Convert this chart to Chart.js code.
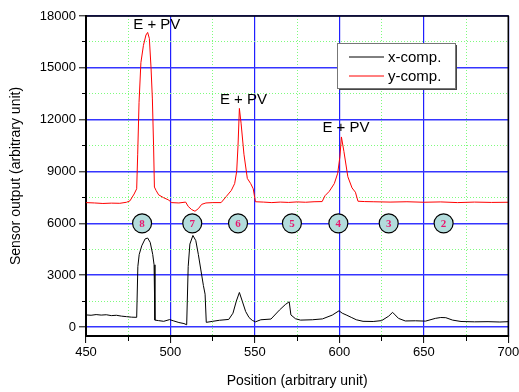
<!DOCTYPE html>
<html lang="en">
<head>
<meta charset="UTF-8">
<title>Sensor output</title>
<script src="https://cdn.jsdelivr.net/npm/chart.js@4.4.1/dist/chart.umd.min.js"></script>
<style>
  html, body { margin: 0; padding: 0; background: #fff; }
</style>
</head>
<body>
<canvas id="myChart" width="519" height="392"></canvas>

<script>
// x-comp. (black trace)
const xCompX = [450, 453, 456, 459, 462, 465, 468, 471, 474, 477, 480, 480.7, 481.5, 483, 485, 486.5, 488, 489.5, 490.3, 490.8,
  493, 496, 499.5, 502, 505, 508, 509.6, 510.5, 511.5, 513.3, 515, 516.5, 518, 519.5, 520.5, 521.2,
  525, 529, 534.5, 537, 539, 540.8, 542.5, 544.5, 546.5, 548.5, 550.3, 553.5, 559.5, 564.5, 568, 570.3, 571.3,
  574, 577, 584, 590, 595.8, 599.8, 601.7, 604, 607, 610, 614, 620, 625, 629.2, 631.5, 633, 635, 639,
  645, 651, 656.8, 660, 663, 667, 672, 680, 688, 695, 700]
const xCompY = [700, 680, 720, 690, 710, 660, 680, 630, 600, 570, 560, 3500, 4200, 4700, 5100, 5150, 4900, 4200, 3600, 400,
  370, 330, 430, 350, 260, 200, 130, 3500, 4800, 5300, 5000, 4200, 3300, 2400, 1900, 270,
  330, 390, 440, 800, 1500, 2000, 1500, 900, 550, 380, 300, 420, 460, 980, 1300, 1460, 700,
  480, 400, 420, 470, 690, 940, 800, 700, 560, 420, 330, 320, 370, 630, 850, 700, 500, 350,
  360, 340, 500, 550, 540, 400, 320, 300, 310, 290, 310]

// y-comp. (red trace)
const yCompX = [450, 455, 460, 465, 470, 474, 476, 478.5, 480, 480.6, 481.4, 482.5, 484, 485.5, 486.5, 487.5, 488.5, 489.3, 490, 490.5,
  491.5, 493, 496, 499, 500.5, 505, 509, 510.5, 512.5, 514.5, 516.5, 518.5, 521, 525, 530,
  533, 536, 538, 539.2, 540, 540.8, 541.8, 543.5, 545.5, 547.5, 549, 550.3, 555, 560, 565, 570, 575, 580, 585,
  589.8, 591.5, 594, 597, 599, 600.3, 601.2, 602.7, 605, 607.5, 609.5, 611,
  615, 620, 630, 640, 650, 660, 670, 680, 690, 700]
const yCompY = [7200, 7180, 7150, 7170, 7160, 7220, 7300, 7700, 8000, 10000, 13000, 15300, 16300, 16900, 17050, 16700, 15000, 13200, 10500, 8100,
  7900, 7650, 7480, 7350, 7200, 7180, 7230, 6980, 6800, 6700, 6850, 7100, 7180, 7200, 7200,
  7550, 7900, 8300, 9000, 10500, 12650, 11800, 10000, 8600, 8300, 8000, 7250, 7230, 7200, 7230, 7210, 7240, 7220, 7250,
  7260, 7600, 7850, 8300, 8900, 9850, 11000, 10150, 8700, 8050, 7800, 7280,
  7260, 7250, 7230, 7250, 7220, 7240, 7200, 7230, 7210, 7220]

// numbered position markers
const markerX = [483.2, 512.9, 540, 571.9, 599.4, 629.2, 661.7]
const markerY = [6000, 6000, 6000, 6000, 6000, 6000, 6000]
const markerLabels = ['8', '7', '6', '5', '4', '3', '2']

// peak annotations
const annotX = [491.9, 543.2, 603.9]
const annotY = [17500, 13150, 11500]
const annotText = ['E + PV', 'E + PV', 'E + PV']

// ticks
const xMajorTicks = [450, 500, 550, 600, 650, 700]
const xMinorTicks = [475, 525, 575, 625, 675]
const yMajorTicks = [0, 3000, 6000, 9000, 12000, 15000, 18000]
const yMinorTicks = [1500, 4500, 7500, 10500, 13500, 16500]

const seriesLabels = ['x-comp.', 'y-comp.']
const seriesColors = ['#000000', '#ff0000']

function toPoints(xs, ys) {
	return xs.map((v, i) => ({ x: v, y: ys[i] }))
}

const FONT = '"Liberation Sans", Arial, sans-serif'

const extras = {
	id: 'extras',
	afterDatasetsDraw(chart) {
		const { ctx, chartArea: a, scales: { x, y } } = chart
		ctx.save()

		// top and right frame
		ctx.strokeStyle = '#000'
		ctx.lineWidth = 1.5
		ctx.beginPath()
		ctx.moveTo(a.left, a.top)
		ctx.lineTo(a.right, a.top)
		ctx.lineTo(a.right, a.bottom)
		ctx.stroke()

		// numbers inside the markers
		const meta = chart.getDatasetMeta(2)
		ctx.font = 'bold 11px "Liberation Serif", serif'
		ctx.fillStyle = '#e8166e'
		ctx.textAlign = 'center'
		ctx.textBaseline = 'middle'
		meta.data.forEach((p, i) => ctx.fillText(markerLabels[i], p.x, p.y + 0.5))

		// E + PV labels
		ctx.font = '15px ' + FONT
		ctx.fillStyle = '#000'
		annotText.forEach((t, i) => {
			ctx.fillText(t, x.getPixelForValue(annotX[i]), y.getPixelForValue(annotY[i]))
		})

		// legend box
		const lx = 337, ly = 43, lw = 118, lh = 45
		ctx.fillStyle = '#444'
		ctx.fillRect(lx + 2, ly + 2, lw, lh)
		ctx.fillStyle = '#fff'
		ctx.fillRect(lx, ly, lw, lh)
		ctx.strokeStyle = '#777'
		ctx.lineWidth = 1
		ctx.strokeRect(lx + 0.5, ly + 0.5, lw, lh)
		ctx.textAlign = 'left'
		seriesLabels.forEach((lab, i) => {
			const ry = 57 + i * 19
			ctx.strokeStyle = seriesColors[i]
			ctx.beginPath()
			ctx.moveTo(349, ry)
			ctx.lineTo(384, ry)
			ctx.stroke()
			ctx.fillStyle = '#000'
			ctx.fillText(lab, 388, ry + 0.5)
		})

		ctx.restore()
	}
}

function setTicks(list) {
	return function (scale) {
		scale.ticks = list.map(v => ({ value: v }))
	}
}

var ctx = document.getElementById('myChart').getContext('2d')

var chart = new Chart(ctx, {
	type: 'line',
	data: {
		datasets: [{
			label: seriesLabels[0],
			data: toPoints(xCompX, xCompY),
			borderColor: seriesColors[0],
			borderWidth: 1,
			pointRadius: 0
		}, {
			label: seriesLabels[1],
			data: toPoints(yCompX, yCompY),
			borderColor: seriesColors[1],
			borderWidth: 1,
			pointRadius: 0
		}, {
			label: 'markers',
			data: toPoints(markerX, markerY),
			showLine: false,
			pointRadius: 9.5,
			pointBackgroundColor: '#b3dcdc',
			pointBorderColor: '#000',
			pointBorderWidth: 1.2
		}]
	},
	options: {
		responsive: false,
		animation: false,
		devicePixelRatio: 1,
		layout: { padding: { top: 16, right: 9, left: 0, bottom: 0 } },
		plugins: {
			legend: { display: false },
			tooltip: { enabled: false }
		},
		scales: {
			xMinor: {
				type: 'linear', position: 'bottom', weight: 0,
				min: 450, max: 700,
				afterBuildTicks: setTicks(xMinorTicks),
				afterFit(s) { s.height = 0; s.paddingLeft = 0; s.paddingRight = 0 },
				ticks: { display: false },
				border: { display: false, dash: [1, 2] },
				grid: { color: '#7dfc7d', lineWidth: 1, tickColor: '#000', tickLength: 5, tickWidth: 1, tickBorderDash: [] }
			},
			x: {
				type: 'linear', position: 'bottom', weight: 1,
				min: 450, max: 700,
				afterBuildTicks: setTicks(xMajorTicks),
				afterFit(s) { s.height = 56; s.paddingLeft = 0; s.paddingRight = 0 },
				ticks: { color: '#000', font: { family: FONT, size: 13 }, padding: 2, callback: v => String(v) },
				border: { color: '#000', width: 2 },
				grid: { color: '#2020ff', lineWidth: 1.2, tickColor: '#000', tickLength: 7, tickWidth: 1 },
				title: { display: true, text: 'Position (arbitrary unit)', color: '#000', font: { family: FONT, size: 14 }, padding: { top: 0, bottom: 2 } }
			},
			yMinor: {
				type: 'linear', position: 'left', weight: 0,
				min: -520, max: 18000,
				afterBuildTicks: setTicks(yMinorTicks),
				afterFit(s) { s.width = 0; s.paddingTop = 0; s.paddingBottom = 0 },
				ticks: { display: false },
				border: { display: false, dash: [1, 2] },
				grid: { color: '#7dfc7d', lineWidth: 1, tickColor: '#000', tickLength: 4, tickWidth: 1, tickBorderDash: [] }
			},
			y: {
				type: 'linear', position: 'left', weight: 1,
				min: -520, max: 18000,
				afterBuildTicks: setTicks(yMajorTicks),
				afterFit(s) { s.width = 86; s.paddingTop = 0; s.paddingBottom = 0 },
				ticks: { color: '#000', font: { family: FONT, size: 13 }, padding: 3, callback: v => String(v) },
				border: { color: '#000', width: 2 },
				grid: { color: '#3535ff', lineWidth: 1.6, tickColor: '#000', tickLength: 7, tickWidth: 1 },
				title: { display: true, text: 'Sensor output (arbitrary unit)', color: '#000', font: { family: FONT, size: 14 }, padding: { top: 8, bottom: 0 } }
			}
		}
	},
	plugins: [extras]
})
</script>
</body>
</html>
